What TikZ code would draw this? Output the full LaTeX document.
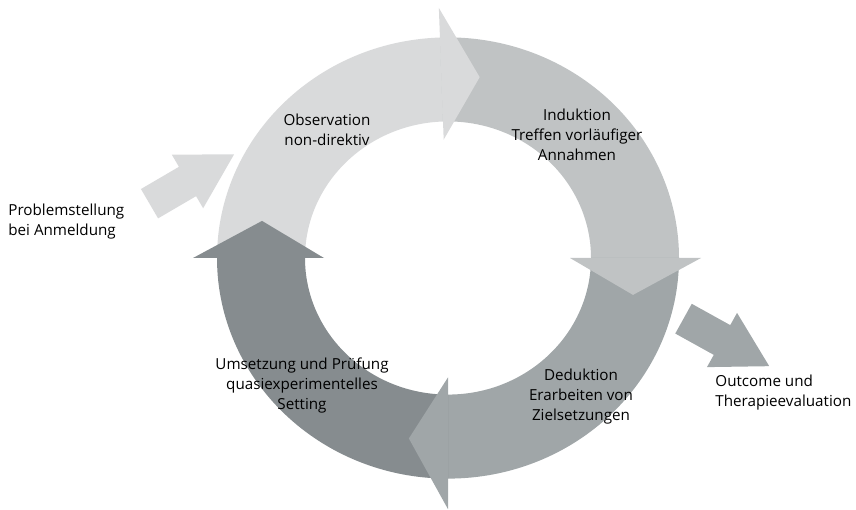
\documentclass[tikz,border=0pt]{standalone}
\usepackage{fontspec}
\setmainfont{Open Sans}
\usepackage{tikz}
\definecolor{obsgray}{HTML}{D9DADB}
\definecolor{indgray}{HTML}{C0C3C4}
\definecolor{dedgray}{HTML}{A0A6A8}
\definecolor{umsgray}{HTML}{868C8F}
\tikzset{obs/.style={fill=obsgray}}
\tikzset{ind/.style={fill=indgray}}
\tikzset{ded/.style={fill=dedgray}}
\tikzset{ums/.style={fill=umsgray}}
\tikzset{txt/.style={font=\fontsize{7.6}{10}\selectfont, align=center, inner sep=0pt}}
\tikzset{side/.style={txt, align=left, anchor=west}}

\begin{document}
\begin{tikzpicture}[x=0.5pt,y=0.5pt]
\useasboundingbox (0,0) rectangle (856,509);
\begin{scope}[shift={(448,251)},yscale=0.955]
\fill[obs] (180:231) arc[start angle=180,end angle=92,radius=231] -- (92:143) arc[start angle=92,end angle=180,radius=143] -- cycle;
\fill[ind] (92:231) arc[start angle=92,end angle=0,radius=231] -- (0:143) arc[start angle=0,end angle=92,radius=143] -- cycle;
\fill[ded] (0:231) arc[start angle=0,end angle=-90,radius=231] -- (-90:143) arc[start angle=-90,end angle=0,radius=143] -- cycle;
\fill[ums] (-90:231) arc[start angle=-90,end angle=-180,radius=231] -- (-180:143) arc[start angle=-180,end angle=-90,radius=143] -- cycle;
\fill[obs] (92:124) -- (92:262) -- (80.5:192) -- cycle;
\fill[ind] (0:122) -- (0:253) -- (-11.8:189) -- cycle;
\fill[ded] (-90:125) -- (-90:263) -- (-101.7:193) -- cycle;
\fill[ums] (180:124) -- (180:255) -- (168.2:190) -- cycle;
\end{scope}
\begin{scope}[shift={(187.5,327.5)},rotate=30.3]
\fill[obs] (-44,-17) -- (0,-17) -- (0,-31) -- (54,0) -- (0,31) -- (0,17) -- (-44,17) -- cycle;
\end{scope}
\begin{scope}[shift={(722,169)},rotate=-29]
\fill[ded] (-44,-17) -- (0,-17) -- (0,-31) -- (54,0) -- (0,31) -- (0,17) -- (-44,17) -- cycle;
\end{scope}
\node[txt] (obsT) at (327,379) {Observation\\non-direktiv};
\node[txt] (indT) at (577,374) {Induktion\\Treffen vorläufiger\\Annahmen};
\node[txt] (dedT) at (581,112) {Deduktion\\Erarbeiten von\\Zielsetzungen};
\node[txt] (umsT) at (302,123) {Umsetzung und Prüfung\\quasiexperimentelles\\Setting};
\node[side] (probT) at (8,287) {Problemstellung\\bei Anmeldung};
\node[side] (outT) at (715,116) {Outcome und\\Therapieevaluation};
\end{tikzpicture}
\end{document}
